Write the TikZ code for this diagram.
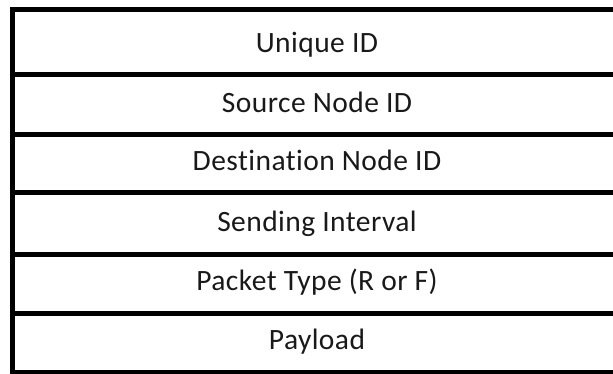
\documentclass[tikz,border=0pt]{standalone}
\usepackage{fontspec}
\setmainfont{Carlito}[Ligatures=NoCommon, LetterSpace=1.5]
\begin{document}
\begin{tikzpicture}[x=1pt,y=-1pt,
  rowbox/.style={draw=black, line width=5pt, rectangle, minimum width=610pt, inner sep=0pt},
  field/.style={anchor=base, font=\fontsize{29.5}{34}\selectfont, text=black!90, inner sep=0pt}]
  \useasboundingbox (0,0) rectangle (613,374);
  \clip (0,0) rectangle (613,374);
  \fill[white] (0,0) rectangle (613,374);
  % field rows of the packet, top to bottom
  \node[rowbox, minimum height=65pt] (r1) at (317,42.5) {};
  \node[rowbox, minimum height=60pt] (r2) at (317,105) {};
  \node[rowbox, minimum height=58pt] (r3) at (317,164) {};
  \node[rowbox, minimum height=61pt] (r4) at (317,223.5) {};
  \node[rowbox, minimum height=59pt] (r5) at (317,283.5) {};
  \node[rowbox, minimum height=59pt] (r6) at (317,342.5) {};
  % field names, set on a baseline 25pt above each row's lower edge
  \node[field] (t1) at ([yshift=25pt]r1.south) {Unique ID};
  \node[field] (t2) at ([yshift=25pt]r2.south) {Source Node ID};
  \node[field] (t3) at ([yshift=25pt]r3.south) {Destination Node ID};
  \node[field] (t4) at ([yshift=25pt]r4.south) {Sending Interval};
  \node[field] (t5) at ([yshift=25pt]r5.south) {Packet Type (R or F)};
  \node[field] (t6) at ([yshift=25pt]r6.south) {Payload};
\end{tikzpicture}
\end{document}
